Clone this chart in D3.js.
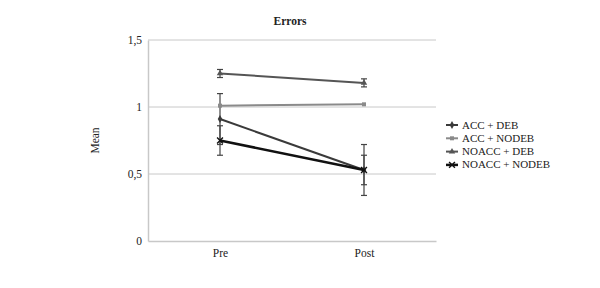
<!DOCTYPE html>
<html><head><meta charset="utf-8">
<script src="https://cdn.jsdelivr.net/npm/d3@7"></script>
<style>body{margin:0;background:#fff}svg{display:block}svg text{font-family:"Liberation Serif","DejaVu Serif",serif !important;fill:#222}</style>
</head><body><div id="chart"></div>
<script>
const categories = ["Pre", "Post"];
const seriesNames = ["ACC + DEB", "ACC + NODEB", "NOACC + DEB", "NOACC + NODEB"];
const accDeb = [0.91, 0.53];
const accDebErr = [0.19, 0.19];
const accNodeb = [1.01, 1.02];
const accNodebErr = [0, 0];
const noaccDeb = [1.25, 1.18];
const noaccDebErr = [0.03, 0.03];
const noaccNodeb = [0.75, 0.53];
const noaccNodebErr = [0.11, 0.11];
const yTicks = [0, 0.5, 1, 1.5];
const yTickLabels = ["0", "0,5", "1", "1,5"];

const series = [
  {name: seriesNames[0], values: accDeb, err: accDebErr, color: "#3a3a3a", width: 2, marker: "diamond"},
  {name: seriesNames[1], values: accNodeb, err: accNodebErr, color: "#8a8a8a", width: 2, marker: "square"},
  {name: seriesNames[2], values: noaccDeb, err: noaccDebErr, color: "#555555", width: 2, marker: "triangle"},
  {name: seriesNames[3], values: noaccNodeb, err: noaccNodebErr, color: "#111111", width: 2.5, marker: "cross"}
];

const W = 600, H = 288;
const FONT = '"Liberation Serif","DejaVu Serif",serif';
const svg = d3.select("#chart").append("svg").attr("width", W).attr("height", H).attr("font-family", FONT);
const pLeft = 148, pRight = 436, pTop = 40, pBottom = 241;
const x = d3.scalePoint().domain(categories).range([pLeft, pRight]).padding(0.5);
const y = d3.scaleLinear().domain([0, 1.5]).range([pBottom, pTop]);

// gridlines
svg.append("g").selectAll("line").data(yTicks.filter(d => d > 0)).join("line")
  .attr("x1", pLeft).attr("x2", pRight).attr("y1", d => y(d)).attr("y2", d => y(d))
  .attr("stroke", "#c8c8c8").attr("stroke-width", 1);

// axes
const yAxis = d3.axisLeft(y).tickValues(yTicks).tickFormat((d, i) => yTickLabels[i]).tickSize(0).tickPadding(6);
const gy = svg.append("g").attr("transform", `translate(${pLeft},0)`).call(yAxis).attr("font-family", FONT).attr("font-size", 11.5);
gy.select(".domain").attr("stroke", "#c8c8c8").attr("stroke-width", 1.5);
gy.selectAll("text").attr("fill", "#222");

const xAxis = d3.axisBottom(x).tickSize(0).tickPadding(8);
const gx = svg.append("g").attr("transform", `translate(0,${pBottom})`).call(xAxis).attr("font-family", FONT).attr("font-size", 11.5);
gx.select(".domain").attr("stroke", "#c8c8c8").attr("stroke-width", 1.5);
gx.selectAll("text").attr("fill", "#222");

// title & axis label
svg.append("text").attr("x", 290).attr("y", 25).attr("text-anchor", "middle")
  .attr("font-size", 11.5).attr("font-weight", "bold").text("Errors");
svg.append("text").attr("transform", `translate(99,${(pTop + pBottom) / 2}) rotate(-90)`)
  .attr("text-anchor", "middle").attr("font-size", 11.5).text("Mean");

function drawMarker(g, type, cx, cy, color) {
  if (type === "diamond") {
    g.append("path").attr("d", d3.symbol(d3.symbolDiamond, 18)()).attr("transform", `translate(${cx},${cy})`).attr("fill", color);
  } else if (type === "square") {
    g.append("path").attr("d", d3.symbol(d3.symbolSquare, 16)()).attr("transform", `translate(${cx},${cy})`).attr("fill", color);
  } else if (type === "triangle") {
    g.append("path").attr("d", d3.symbol(d3.symbolTriangle, 18)()).attr("transform", `translate(${cx},${cy})`).attr("fill", color);
  } else {
    g.append("path").attr("d", d3.symbol(d3.symbolX, 24)()).attr("transform", `translate(${cx},${cy})`).attr("stroke", color).attr("stroke-width", 1.4).attr("fill", "none");
  }
}

// error bars
series.forEach(s => {
  const g = svg.append("g");
  s.values.forEach((v, i) => {
    const e = s.err[i];
    if (e <= 0) return;
    const cx = x(categories[i]);
    g.append("line").attr("x1", cx).attr("x2", cx).attr("y1", y(v - e)).attr("y2", y(v + e)).attr("stroke", "#444").attr("stroke-width", 1.2);
    [v - e, v + e].forEach(t => g.append("line").attr("x1", cx - 3).attr("x2", cx + 3).attr("y1", y(t)).attr("y2", y(t)).attr("stroke", "#444").attr("stroke-width", 1.2));
  });
});

// lines and markers
const line = d3.line().x((d, i) => x(categories[i])).y(d => y(d));
series.forEach(s => {
  const g = svg.append("g");
  g.append("path").datum(s.values).attr("d", line).attr("fill", "none").attr("stroke", s.color).attr("stroke-width", s.width);
  s.values.forEach((v, i) => drawMarker(g, s.marker, x(categories[i]), y(v), s.color));
});

// legend
const lg = svg.append("g").attr("transform", "translate(446,125)");
series.forEach((s, i) => {
  const g = lg.append("g").attr("transform", `translate(0,${i * 13.3})`);
  g.append("line").attr("x1", 0).attr("x2", 12).attr("y1", 0).attr("y2", 0).attr("stroke", s.color).attr("stroke-width", s.width);
  drawMarker(g, s.marker, 6, 0, s.color);
  g.append("text").attr("x", 16).attr("y", 3.5).attr("font-size", 11).text(s.name);
});
</script></body></html>
